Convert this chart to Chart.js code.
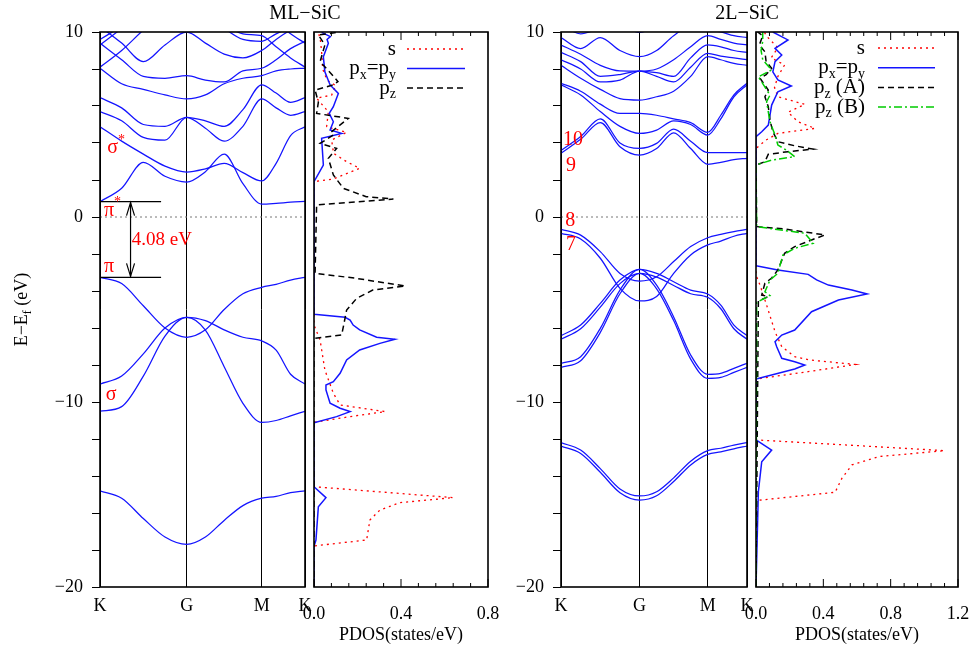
<!DOCTYPE html>
<html><head><meta charset="utf-8">
<script src="https://cdn.jsdelivr.net/npm/chart.js@4/dist/chart.umd.min.js"></script>
<style>
html,body{margin:0;padding:0;background:#fff;overflow:hidden;width:974px;height:654px;position:relative;}
canvas{position:absolute;top:0;}
</style></head><body>
<canvas id="cA" width="330" height="654" style="left:0px"></canvas>
<canvas id="cB" width="268" height="654" style="left:240px"></canvas>
<canvas id="cC" width="311" height="654" style="left:461px"></canvas>
<canvas id="cD" width="296" height="654" style="left:682px"></canvas>
<script>
// ---------- k-path ----------
const kPath = [0, 1.3333, 2.4880, 3.1547];
const kLabels = ['K', 'G', 'M', 'K'];
const kSamples = [0, 0.3333, 0.6667, 1.0, 1.3333, 1.6220, 1.9107, 2.1993, 2.4880, 2.7102, 2.9325, 3.1547];
const energyTicks = [-20, -10, 0, 10];

// ---------- ML-SiC bands (eV at kSamples) ----------
const mlPi     = [-3.26, -3.6, -4.8, -6.0, -6.5, -6.1, -5.0, -4.15, -3.8, -3.64, -3.41, -3.26];
const mlSigma1 = [-9.03, -8.6, -7.4, -6.0, -5.42, -5.6, -6.1, -6.5, -6.7, -7.2, -8.5, -9.03];
const mlSigma2 = [-10.5, -10.25, -8.6, -6.44, -5.42, -6.11, -8.09, -10.07, -11.1, -11.0, -10.75, -10.5];
const mlLow    = [-14.8, -15.2, -16.3, -17.3, -17.7, -17.3, -16.4, -15.6, -15.2, -15.1, -14.9, -14.8];
const mlC1 = [0.83, 1.55, 2.95, 2.2, 1.89, 2.45, 3.4, 1.8, 0.70, 0.74, 0.80, 0.84];
const mlC2 = [4.88, 4.1, 3.4, 2.75, 2.43, 2.6, 2.9, 2.4, 1.95, 2.9, 4.4, 4.88];
const mlC3 = [5.7, 5.2, 4.3, 4.15, 5.39, 4.8, 4.1, 4.9, 6.38, 5.9, 5.5, 5.7];
const mlC4 = [6.45, 5.9, 5.0, 4.9, 5.39, 5.2, 4.9, 5.8, 7.14, 6.7, 6.2, 6.45];
const mlC5 = [8.04, 7.2, 6.9, 6.6, 6.38, 6.6, 7.2, 7.5, 7.64, 7.9, 8.0, 8.04];
const mlC6 = [9.4, 8.5, 7.6, 7.5, 7.64, 7.4, 7.3, 7.9, 8.04, 8.5, 9.1, 9.5];
const mlC7 = [10.3, 9.4, 8.4, 9.3, 10.0, 9.4, 8.8, 8.6, 9.0, 9.6, 10.1, 10.4];
const mlC8 = [9.6, 10.3, 11.0, 11.5, 11.5, 11.0, 10.2, 9.6, 9.5, 9.9, 10.2, 10.0];
const mlC9 = [8.1, 9.0, 10.1, 11.0, 11.6, 11.2, 10.4, 9.9, 9.8, 9.2, 8.6, 8.1];
const mlC10 = [9.3, 10.2, 11.2, 12.0, 12.4, 12.0, 11.0, 10.3, 10.2, 10.6, 9.9, 9.4];
const mlVBM = -3.26, mlCBM = 0.83;

// ---------- 2L-SiC bands ----------
const blPiA  = [-0.67, -0.98, -1.87, -3.05, -3.46, -3.23, -2.41, -1.6, -1.12, -0.94, -0.79, -0.67];
const blPiB  = [-0.88, -1.19, -2.23, -3.86, -4.54, -4.3, -3.05, -2.05, -1.51, -1.3, -1.04, -0.88];
const blS1A  = [-6.41, -5.84, -4.67, -3.41, -2.83, -3.05, -3.5, -3.95, -4.16, -4.76, -5.84, -6.41];
const blS1B  = [-6.61, -6.04, -4.87, -3.6, -3.05, -3.25, -3.7, -4.15, -4.34, -4.96, -6.04, -6.61];
const blS2A  = [-7.91, -7.55, -6.02, -3.95, -2.83, -3.68, -5.4, -7.46, -8.5, -8.45, -8.18, -7.91];
const blS2B  = [-8.13, -7.77, -6.24, -4.15, -3.05, -3.88, -5.6, -7.68, -8.72, -8.67, -8.4, -8.13];
const blLowA = [-12.2, -12.6, -13.6, -14.7, -15.08, -14.85, -14.1, -13.2, -12.63, -12.5, -12.33, -12.2];
const blLowB = [-12.38, -12.78, -13.8, -14.9, -15.3, -15.07, -14.3, -13.4, -12.83, -12.7, -12.53, -12.38];
const blC1  = [3.45, 4.2, 5.1, 3.8, 3.35, 3.7, 4.55, 3.7, 2.85, 2.95, 3.1, 3.17];
const blC2  = [3.6, 4.35, 5.3, 4.0, 3.71, 3.98, 4.75, 4.1, 3.48, 3.48, 3.48, 3.48];
const blC3  = [7.14, 6.6, 5.7, 4.9, 4.52, 4.7, 5.2, 5.0, 4.43, 5.3, 6.5, 7.14];
const blC4  = [7.23, 6.8, 6.1, 5.6, 5.6, 5.5, 5.3, 5.1, 4.58, 5.5, 6.6, 7.23];
const blC5  = [8.2, 7.5, 6.9, 6.4, 6.32, 6.5, 6.8, 7.6, 8.67, 8.5, 8.3, 8.2];
const blC6  = [8.5, 8.0, 7.3, 7.4, 7.89, 7.6, 7.3, 8.1, 8.85, 8.7, 8.6, 8.5];
const blC7  = [8.9, 8.4, 7.6, 7.7, 7.89, 7.8, 7.6, 8.6, 9.3, 9.2, 9.0, 8.9];
const blC8  = [9.3, 8.8, 8.2, 7.9, 7.89, 8.0, 8.5, 9.2, 9.8, 9.6, 9.4, 9.3];
const blC9  = [9.7, 9.1, 9.7, 9.0, 8.67, 9.0, 9.8, 10.3, 10.1, 10.0, 9.8, 9.7];
const blC10 = [10.4, 9.9, 10.2, 10.3, 9.98, 10.3, 10.6, 10.6, 10.4, 10.3, 10.2, 10.3];

// ---------- PDOS, pairs [E (eV), PDOS (states/eV)] ----------
const mlS = [[-20,0],[-17.78,0],[-17.46,0.242],[-16.38,0.257],[-15.84,0.303],[-15.44,0.395],[-15.17,0.64],[-14.58,0],
  [-11.1,0],[-10.79,0.166],[-10.52,0.327],[-10.16,0.12],[-9.53,0.089],[-8.27,0.05],[-6.65,0.028],[-5.84,0],
  [1.91,0],[2.05,0.088],[2.63,0.21],[2.99,0.15],[3.44,0.09],[4.16,0.081],[4.58,0.15],[4.88,0.058],[5.69,0.066],
  [6.42,0.012],[6.59,0.081],[7.1,0.1],[7.4,0.06],[8.0,0.04],[8.93,0.035],[9.5,0.03],[10,0.02]];
const mlPxy = [[-20,0],[-17.8,0],[-17.46,0.009],[-15.66,0.02],[-15.17,0.055],[-14.58,0],[-11.12,0],[-10.79,0.104],
  [-10.52,0.166],[-10.34,0.12],[-10.07,0.074],[-9.35,0.055],[-9.08,0.055],[-8.9,0.089],[-8.45,0.12],[-7.73,0.15],
  [-7.19,0.21],[-6.83,0.303],[-6.61,0.372],[-6.5,0.288],[-6.1,0.21],[-5.84,0.18],[-5.57,0.166],[-5.42,0.143],[-5.26,0],
  [1.91,0],[2.81,0.043],[4.25,0.035],[4.52,0.127],[4.7,0.074],[5.15,0.089],[5.6,0.07],[5.96,0.089],[6.68,0.112],
  [7.14,0.074],[7.85,0.05],[8.66,0.043],[9.39,0.066],[9.6,0.06],[9.75,0.075],[9.98,0.035]];
const mlPz = [[-20,0],[-6.56,0],[-6.38,0.127],[-5.93,0.135],[-5.03,0.15],[-4.4,0.196],[-3.95,0.27],[-3.73,0.42],
  [-3.31,0.19],[-3.04,0.005],[0.65,0.012],[0.97,0.365],[1.1,0.24],[1.55,0.135],[2.27,0.089],[3.17,0.066],[3.71,0.104],
  [3.98,0.028],[4.43,0.089],[4.6,0.08],[5.33,0.158],[5.6,0.012],[6.2,0.02],[6.86,0.005],[7.14,0.088],[7.32,0.11],
  [7.6,0.09],[8.4,0.028],[9.3,0.05],[9.84,0.02],[10,0.12]];

const blS = [[-20,0],[-15.33,0],[-14.88,0.47],[-14.13,0.51],[-13.4,0.57],[-12.95,0.73],[-12.63,1.12],[-12.32,0.53],[-12.05,0],
  [-8.76,0],[-8.36,0.31],[-7.97,0.59],[-7.73,0.32],[-7.55,0.23],[-7.01,0.153],[-6.2,0.113],[-4.76,0.063],[-3.68,0.024],[-3.14,0],
  [3.71,0],[4.16,0.06],[4.52,0.13],[4.79,0.35],[5.15,0.25],[5.66,0.19],[6.09,0.29],[6.5,0.13],[7.0,0.11],[7.6,0.13],
  [8.22,0.17],[8.6,0.09],[9.15,0.13],[9.8,0.06],[10,0.05]];
const blPxy = [[-20,0],[-14.85,0.014],[-13.23,0.034],[-12.6,0.093],[-12.05,0],[-8.76,0],[-8.22,0.23],[-8.0,0.29],[-7.82,0.23],
  [-7.64,0.153],[-7.01,0.123],[-6.74,0.113],[-6.38,0.153],[-6.11,0.23],[-5.12,0.33],[-4.49,0.49],[-4.16,0.66],[-3.95,0.57],
  [-3.68,0.43],[-3.4,0.36],[-3.1,0.31],[-2.86,0.13],[-2.63,0],[4.34,0],[4.61,0.034],[4.97,0.073],[6.05,0.093],[6.77,0.13],
  [7.08,0.21],[7.41,0.13],[7.85,0.1],[8.4,0.113],[8.76,0.153],[9.12,0.113],[9.57,0.19],[10,0.1]];
const blPzA = [[-20,0],[-4.54,0.014],[-4.3,0.073],[-4.22,0.034],[-3.58,0.053],[-3.3,0.093],[-2.86,0.13],[-1.96,0.17],
  [-1.6,0.23],[-1.24,0.33],[-0.97,0.41],[-0.65,0.17],[-0.52,0.004],[2.81,0],[2.99,0.053],[3.39,0.073],[3.53,0.19],
  [3.67,0.34],[3.85,0.23],[4.07,0.13],[4.61,0.1],[5.24,0.083],[5.96,0.073],[6.5,0.053],[6.86,0.073],[7.5,0.024],
  [7.7,0.06],[8.04,0.093],[8.4,0.06],[8.93,0.053],[9.3,0.02],[9.8,0.04],[10,0.01]];
const blPzB = [[-20,0],[-4.61,0.004],[-4.25,0.083],[-4.04,0.053],[-3.41,0.083],[-3.04,0.13],[-2.05,0.16],[-1.69,0.23],
  [-1.42,0.34],[-0.88,0.29],[-0.52,0.004],[2.81,0],[3.08,0.093],[3.26,0.23],[3.62,0.18],[3.89,0.13],[4.43,0.113],
  [5.15,0.083],[6.23,0.063],[6.59,0.083],[7.58,0.014],[7.95,0.093],[8.5,0.04],[9.0,0.03],[9.5,0.04],[10,0.04]];

// ---------- styling ----------
const SERIF = "'Liberation Serif','DejaVu Serif','Times New Roman',serif";
const BLUE = 'rgb(20,20,255)';
const RED = '#ff0000';
Chart.defaults.font.family = SERIF;
Chart.defaults.font.size = 18;
Chart.defaults.color = '#000';

function fontStr(sz){ return sz + 'px ' + SERIF; }
function fmtE(v){ return v < 0 ? '\u2212' + Math.abs(v) : String(v); }
function richWidth(ctx, segs, size){
  let w = 0;
  segs.forEach(s => { ctx.font = fontStr((s.sub||s.sup) ? Math.round(size*0.68) : size); w += ctx.measureText(s.t).width; });
  return w;
}
function drawRich(ctx, segs, x, y, size, align, color){
  ctx.save(); ctx.fillStyle = color; ctx.textBaseline = 'middle'; ctx.textAlign = 'left';
  const w = richWidth(ctx, segs, size);
  let cx = align === 'right' ? x - w : (align === 'center' ? x - w/2 : x);
  segs.forEach(s => {
    const fs = (s.sub||s.sup) ? Math.round(size*0.68) : size;
    ctx.font = fontStr(fs);
    const dy = s.sub ? size*0.32 : (s.sup ? -size*0.4 : 0);
    ctx.fillText(s.t, cx, y + dy);
    cx += ctx.measureText(s.t).width;
  });
  ctx.restore();
}
function line(ctx, x1, y1, x2, y2){ ctx.beginPath(); ctx.moveTo(x1,y1); ctx.lineTo(x2,y2); ctx.stroke(); }

const framePlugin = { id:'frame', afterDatasetsDraw(chart){
  const {ctx, chartArea:a} = chart; ctx.save(); ctx.strokeStyle='#000'; ctx.lineWidth=1.6;
  ctx.strokeRect(a.left, a.top, a.right-a.left, a.bottom-a.top); ctx.restore(); } };

function bandSets(bands){
  return bands.map(b => ({ data: kSamples.map((k,i) => ({x:k, y:b[i]})), borderColor: BLUE, borderWidth: 1.25,
    pointRadius: 0, cubicInterpolationMode: 'monotone', fill: false, order: 2 }));
}
function zeroSet(){
  return { data: [{x:kPath[0], y:0}, {x:kPath[kPath.length-1], y:0}], borderColor:'#777', borderWidth:1,
    borderDash:[2,3], pointRadius:0, order: 3 };
}

function bandChart(id, bands, extraSets, labels, extraPlugin){
  const textPlugin = { id:'texts', afterDatasetsDraw(chart){
    const {ctx} = chart; const xs = chart.scales.x, ys = chart.scales.y;
    labels.forEach(l => drawRich(ctx, l.segs, xs.getPixelForValue(l.k), ys.getPixelForValue(l.e), l.size, 'left', RED));
  }};
  const plugins = [framePlugin, textPlugin];
  if (extraPlugin) plugins.push(extraPlugin);
  return new Chart(document.getElementById(id), {
    type: 'line',
    data: { datasets: bandSets(bands).concat([zeroSet()]).concat(extraSets) },
    options: {
      responsive:false, animation:false, devicePixelRatio:1,
      layout:{ padding:{ top:32, right:25, left:0, bottom:0 } },
      plugins:{ legend:{display:false}, tooltip:{enabled:false} },
      scales:{
        x:{ type:'linear', min:kPath[0], max:kPath[kPath.length-1],
          afterBuildTicks: s => { s.ticks = kPath.map(v => ({value:v})); },
          ticks:{ callback:(v,i) => kLabels[i], autoSkip:false, maxRotation:0, padding:8, color:'#000', font:{size:18} },
          grid:{ color:'#000', lineWidth:1, drawTicks:false }, border:{display:false},
          afterFit: s => { s.height = 67; } },
        y:{ type:'linear', min:-20, max:10,
          ticks:{ stepSize:2, maxTicksLimit:100, autoSkip:false, padding:9, color:'#000', font:{size:18},
            callback: v => energyTicks.includes(v) ? fmtE(v) : '' },
          grid:{ drawOnChartArea:false, tickLength:8, color:'#000', lineWidth:1 }, border:{display:false},
          afterFit: s => { s.width = 100; } }
      }
    },
    plugins
  });
}

function isMajor(v){ const r = v/0.4; return Math.abs(r - Math.round(r)) < 1e-6; }

function pdosChart(id, series, xmax, legend, lg, title){
  const tickPlugin = { id:'inticks', afterDatasetsDraw(chart){
    const {ctx, chartArea:a} = chart; const xs = chart.scales.x;
    ctx.save(); ctx.strokeStyle='#000'; ctx.lineWidth=1;
    xs.ticks.forEach(t => { const px = xs.getPixelForValue(t.value); const len = isMajor(t.value) ? 8 : 4;
      line(ctx, px, a.bottom, px, a.bottom-len); line(ctx, px, a.top, px, a.top+len); });
    ctx.restore();
    legend.forEach((it, i) => {
      const y = a.top + lg.y0 + i*lg.dy;
      drawRich(ctx, it.segs, a.left + lg.textRight, y, 21, 'right', '#000');
      ctx.save(); ctx.strokeStyle = it.color; ctx.lineWidth = it.width; ctx.setLineDash(it.dash);
      line(ctx, a.left + lg.s0, y, a.left + lg.s1, y); ctx.restore();
    });
    // panel-pair title, centred on the band panel's right edge
    drawRich(ctx, [{t:title}], a.left - 9, 14, 20, 'center', '#000');
  }};
  return new Chart(document.getElementById(id), {
    type:'line',
    data:{ datasets: series.map(s => ({ data: s.pts.map(p => ({x:p[1], y:p[0]})), borderColor:s.color, borderWidth:s.width,
      borderDash:s.dash, pointRadius:0, tension:0, fill:false, order:s.order })) },
    options:{
      responsive:false, animation:false, devicePixelRatio:1,
      layout:{ padding:{ top:32, right:20, left:74, bottom:0 } },
      plugins:{ legend:{display:false}, tooltip:{enabled:false} },
      scales:{
        x:{ type:'linear', min:0, max:xmax,
          ticks:{ stepSize:0.08, maxTicksLimit:100, autoSkip:false, maxRotation:0, padding:8, color:'#000', font:{size:18},
            callback: v => isMajor(v) ? v.toFixed(1) : '' },
          grid:{ display:false }, border:{display:false},
          title:{ display:true, text:'PDOS(states/eV)', color:'#000', font:{size:18}, padding:{top:0, bottom:8} },
          afterFit: s => { s.height = 67; } },
        y:{ type:'linear', display:false, min:-20, max:10 }
      }
    },
    plugins:[framePlugin, tickPlugin]
  });
}

// ---------- ML band panel ----------
const gapArrowK = 0.47, gapLineEnd = 0.94;
const gapSets = [mlCBM, mlVBM].map(e => ({ data:[{x:0, y:e}, {x:gapLineEnd, y:e}], borderColor:'#000', borderWidth:1.3, pointRadius:0, order:1 }));
const arrowPlugin = { id:'arrow', afterDatasetsDraw(chart){
  const {ctx} = chart; const xs = chart.scales.x, ys = chart.scales.y;
  const x = xs.getPixelForValue(gapArrowK), y1 = ys.getPixelForValue(mlCBM), y2 = ys.getPixelForValue(mlVBM);
  ctx.save(); ctx.strokeStyle='#000'; ctx.lineWidth=1.2;
  line(ctx, x, y1, x, y2);
  ctx.beginPath(); ctx.moveTo(x-4, y1+14); ctx.lineTo(x, y1+1); ctx.lineTo(x+4, y1+14); ctx.stroke();
  ctx.beginPath(); ctx.moveTo(x-4, y2-14); ctx.lineTo(x, y2-1); ctx.lineTo(x+4, y2-14); ctx.stroke();
  ctx.restore();
  // y axis title
  ctx.save(); ctx.translate(22, (chart.chartArea.top + chart.chartArea.bottom)/2); ctx.rotate(-Math.PI/2);
  drawRich(ctx, [{t:'E\u2212E'},{t:'f', sub:true},{t:' (eV)'}], 0, 0, 18, 'center', '#000');
  ctx.restore();
}};
bandChart('cA', [mlLow, mlSigma2, mlSigma1, mlPi, mlC1, mlC2, mlC3, mlC4, mlC5, mlC6, mlC7, mlC8, mlC9, mlC10], gapSets, [
  { segs:[{t:'σ'},{t:'*', sup:true}], k:0.11, e:3.73, size:20 },
  { segs:[{t:'π'},{t:'*', sup:true}], k:0.06, e:0.35, size:20 },
  { segs:[{t:'π'}], k:0.06, e:-2.7, size:20 },
  { segs:[{t:'σ'}], k:0.09, e:-9.6, size:20 },
  { segs:[{t:'4.08 eV'}], k:0.49, e:-1.25, size:19 }
], arrowPlugin);

// ---------- ML PDOS ----------
pdosChart('cB', [
  { pts: mlS, color: RED, width: 1.3, dash: [2,4], order: 3 },
  { pts: mlPxy, color: BLUE, width: 1.5, dash: [], order: 2 },
  { pts: mlPz, color: '#000', width: 1.5, dash: [6,4], order: 1 }
], 0.8, [
  { segs:[{t:'s'}], color: RED, width: 1.3, dash:[2,4] },
  { segs:[{t:'p'},{t:'x',sub:true},{t:'=p'},{t:'y',sub:true}], color: BLUE, width: 1.5, dash:[] },
  { segs:[{t:'p'},{t:'z',sub:true}], color:'#000', width:1.5, dash:[6,4] }
], { y0:17, dy:19.5, textRight:82, s0:93, s1:151 }, 'ML\u2212SiC');

// ---------- 2L band panel ----------
bandChart('cC', [blLowA, blLowB, blS2A, blS2B, blS1A, blS1B, blPiA, blPiB, blC1, blC2, blC3, blC4, blC5, blC6, blC7, blC8, blC9, blC10], [], [
  { segs:[{t:'10'}], k:0.034, e:4.16, size:20 },
  { segs:[{t:'9'}], k:0.085, e:2.75, size:20 },
  { segs:[{t:'8'}], k:0.07, e:-0.2, size:20 },
  { segs:[{t:'7'}], k:0.085, e:-1.5, size:20 }
], null);

// ---------- 2L PDOS ----------
pdosChart('cD', [
  { pts: blS, color: RED, width: 1.3, dash: [2,4], order: 4 },
  { pts: blPxy, color: BLUE, width: 1.5, dash: [], order: 3 },
  { pts: blPzA, color: '#000', width: 1.5, dash: [6,4], order: 2 },
  { pts: blPzB, color: '#00cc00', width: 1.5, dash: [8,3,2,3], order: 1 }
], 1.2, [
  { segs:[{t:'s'}], color: RED, width: 1.3, dash:[2,4] },
  { segs:[{t:'p'},{t:'x',sub:true},{t:'=p'},{t:'y',sub:true}], color: BLUE, width: 1.5, dash:[] },
  { segs:[{t:'p'},{t:'z',sub:true},{t:' (A)'}], color:'#000', width:1.5, dash:[6,4] },
  { segs:[{t:'p'},{t:'z',sub:true},{t:' (B)'}], color:'#00cc00', width:1.5, dash:[8,3,2,3] }
], { y0:16, dy:19.7, textRight:109, s0:122, s1:179 }, '2L\u2212SiC');
</script></body></html>
